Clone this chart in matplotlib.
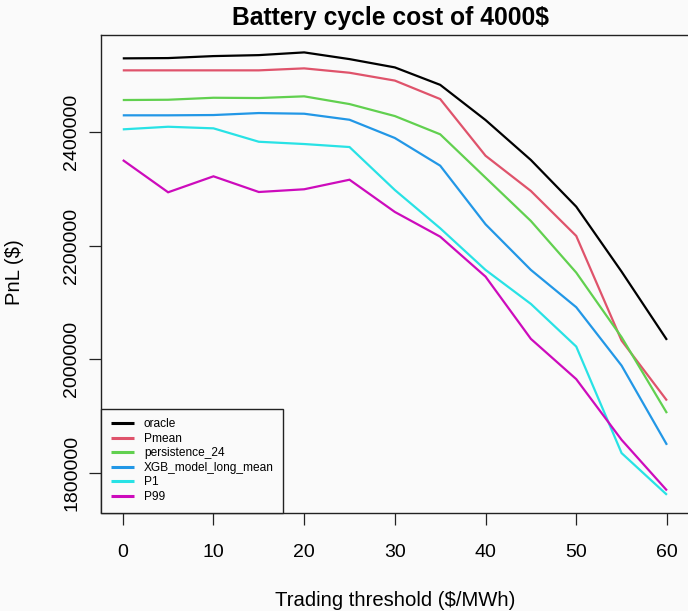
import matplotlib
matplotlib.use("Agg")
import matplotlib.pyplot as plt

plt.rcParams['font.family'] = ['Liberation Sans', 'DejaVu Sans']

# Trading threshold ($/MWh)
thresholds = [0, 5, 10, 15, 20, 25, 30, 35, 40, 45, 50, 55, 60]

# PnL ($) per strategy
oracle = [2529600, 2530100, 2533600, 2535300, 2540100, 2528300, 2513700,
          2483000, 2421100, 2350800, 2268700, 2154400, 2034300]
pmean = [2508500, 2508500, 2508500, 2508500, 2512000, 2504300, 2490500,
         2458000, 2358300, 2296300, 2217200, 2033100, 1927600]
persistence_24 = [2456300, 2456800, 2460300, 2459800, 2462800, 2449200, 2428100,
                  2396000, 2319700, 2243500, 2152700, 2039100, 1905500]
xgb_model_long_mean = [2429400, 2429400, 2429900, 2433400, 2432200, 2421600, 2389500,
                       2340800, 2237700, 2157400, 2091800, 1989100, 1849700]
p1 = [2404700, 2409300, 2406500, 2382900, 2378900, 2373600, 2298000,
      2230700, 2157400, 2097600, 2022600, 1835200, 1761800]
p99 = [2350800, 2294000, 2322100, 2294500, 2299300, 2316100, 2259400,
       2215900, 2145600, 2036100, 1965300, 1858500, 1769400]

series_names = ["oracle", "Pmean", "persistence_24", "XGB_model_long_mean", "P1", "P99"]
series_values = [oracle, pmean, persistence_24, xgb_model_long_mean, p1, p99]
series_colors = ["#000000", "#DF536B", "#61D04F", "#2297E6", "#28E2E5", "#CD0BBC"]

x_ticks = [0, 10, 20, 30, 40, 50, 60]
y_ticks = [1800000, 2000000, 2200000, 2400000]

W, H = 688, 611
bg = "#fafafa"
fig = plt.figure(figsize=(W / 100, H / 100), dpi=100, facecolor=bg)

left_px, right_px, top_px, bottom_px = 101, 688.7, 34.7, 512.5
ax = fig.add_axes([left_px / W, 1 - bottom_px / H,
                   (right_px - left_px) / W, (bottom_px - top_px) / H])
ax.set_facecolor(bg)

for name, vals, col in zip(series_names, series_values, series_colors):
    ax.plot(thresholds, vals, color=col, lw=1.6, label=name,
            solid_joinstyle='miter', solid_capstyle='butt')

# base-graphics style 4% padding around the data range
all_vals = [v for s in series_values for v in s]
ymin, ymax = min(all_vals), max(all_vals)
yr = ymax - ymin
ax.set_ylim(ymin - 0.04 * yr, ymax + 0.04 * yr)
xr = max(thresholds) - min(thresholds)
ax.set_xlim(min(thresholds) - 0.04 * xr, max(thresholds) + 0.04 * xr)

ax.set_xticks(x_ticks)
ax.set_xticklabels([str(t) for t in x_ticks], fontsize=14)
ax.set_yticks(y_ticks)
ax.set_yticklabels([str(t) for t in y_ticks], fontsize=14, rotation=90, va='center')
ax.tick_params(axis='both', direction='out', length=8.5, width=0.9, color='#222222')
ax.tick_params(axis='x', pad=14.5)
ax.tick_params(axis='y', pad=6.5)
for sp in ax.spines.values():
    sp.set_linewidth(1.0)
    sp.set_color('#222222')

cx = (left_px + right_px) / 2 / W
fig.text(390 / W, 1 - 18 / H, "Battery cycle cost of 4000$", ha='center', va='center',
         fontsize=17.7, fontweight='bold')
fig.text(cx, 1 - 600 / H, "Trading threshold ($/MWh)", ha='center', va='center',
         fontsize=14.6)
fig.text(15 / W, 1 - 272 / H, "PnL ($)", ha='center', va='center',
         fontsize=14.6, rotation=90)

leg = ax.legend(loc='lower left', bbox_to_anchor=(0, 0), borderaxespad=0,
                fontsize=8.6, frameon=True, fancybox=False, handlelength=2.0,
                handletextpad=0.8, labelspacing=0.21, borderpad=0.8)
leg.get_frame().set_edgecolor('#222222')
leg.get_frame().set_linewidth(1.0)
leg.get_frame().set_facecolor(bg)
leg.get_frame().set_alpha(1)
for line in leg.get_lines():
    line.set_linewidth(2.2)

fig.savefig("out.png", dpi=100, facecolor=bg)
